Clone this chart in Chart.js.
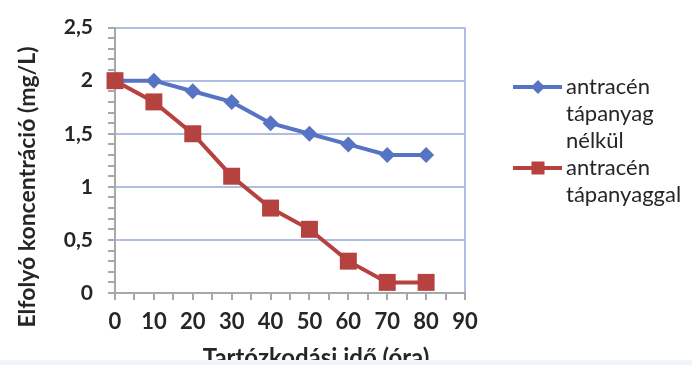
<!DOCTYPE html>
<html>
<head>
<meta charset="utf-8">
<script src="https://cdn.jsdelivr.net/npm/chart.js@4.4.1/dist/chart.umd.min.js"></script>
<style>
  html, body { margin: 0; padding: 0; background: #fff; }
  #wrap { position: relative; width: 692px; height: 365px; overflow: hidden; }
  #strip { position: absolute; left: 0; top: 360px; width: 692px; height: 5px; background: #eef4f9; }
</style>
</head>
<body>
<div id="wrap">
  <canvas id="chart" width="692" height="365"></canvas>
  <div id="strip"></div>
</div>
<script>
  /* ================= DATA ================= */
  const hours = [0, 10, 20, 30, 40, 50, 60, 70, 80];
  const withoutNutrient = [2, 2, 1.9, 1.8, 1.6, 1.5, 1.4, 1.3, 1.3];
  const withNutrient = [2, 1.8, 1.5, 1.1, 0.8, 0.6, 0.3, 0.1, 0.1];
  const seriesNames = [['antracén', 'tápanyag', 'nélkül'], ['antracén', 'tápanyaggal']];
  const yTitle = 'Elfolyó koncentráció (mg/L)';
  const xTitle = 'Tartózkodási idő (óra)';

  const BLUE = '#5774c4';
  const RED = '#b5423f';
  const GRID = '#aebde4';
  const AXIS = '#a8a8a8';
  const TEXT = '#262626';
  const FONT = 'Lato, "DejaVu Sans", sans-serif';

  let isMultiple = (v, step) => Math.abs(v / step - Math.round(v / step)) < 1e-6;

  /* ====== titles + legend drawn by hand (multi-line labels) ====== */
  let extras = {
    id: 'extras',
    afterDraw(chart) {
      let ctx = chart.ctx;
      ctx.save();
      ctx.fillStyle = TEXT;

      // y title
      ctx.font = 'bold 23px ' + FONT;
      ctx.textAlign = 'center';
      ctx.textBaseline = 'middle';
      ctx.save();
      ctx.translate(28, 187);
      ctx.rotate(-Math.PI / 2);
      ctx.fillText(yTitle, 0, 0);
      ctx.restore();

      // x title (cut by the strip below)
      ctx.font = 'bold 24px ' + FONT;
      ctx.textBaseline = 'alphabetic';
      ctx.fillText(xTitle, 316, 366);

      // legend
      ctx.font = '22px ' + FONT;
      ctx.textAlign = 'left';
      ctx.textBaseline = 'middle';
      let y = 87;
      chart.data.datasets.forEach((ds, i) => {
        ctx.strokeStyle = ds.borderColor;
        ctx.lineWidth = 4;
        ctx.beginPath();
        ctx.moveTo(513, y);
        ctx.lineTo(562, y);
        ctx.stroke();
        ctx.fillStyle = ds.borderColor;
        ctx.beginPath();
        if (ds.pointStyle === 'rectRot') {
          ctx.moveTo(538, y - 7); ctx.lineTo(545, y); ctx.lineTo(538, y + 7); ctx.lineTo(531, y);
        } else {
          ctx.rect(531.5, y - 6.5, 13, 13);
        }
        ctx.fill();
        ctx.fillStyle = TEXT;
        seriesNames[i].forEach(line => {
          ctx.fillText(line, 566, y);
          y += 27;
        });
      });
      ctx.restore();
    }
  };

  /* ================= CHART ================= */
  let canvas = document.getElementById('chart').getContext('2d');

  new Chart(canvas, {
    type: 'line',
    data: {
      datasets: [{
        label: seriesNames[0].join(' '),
        data: hours.map((h, i) => ({ x: h, y: withoutNutrient[i] })),
        borderColor: BLUE,
        backgroundColor: BLUE,
        borderWidth: 4,
        pointStyle: 'rectRot',
        pointRadius: 8,
        pointBorderWidth: 0,
        order: 1,
        clip: false
      }, {
        label: seriesNames[1].join(' '),
        data: hours.map((h, i) => ({ x: h, y: withNutrient[i] })),
        borderColor: RED,
        backgroundColor: RED,
        borderWidth: 4,
        pointStyle: 'rect',
        pointRadius: 12,
        pointBorderWidth: 0,
        order: 0,
        clip: false
      }]
    },
    options: {
      responsive: false,
      animation: false,
      events: [],
      layout: { padding: { top: 24, right: 227, left: 0, bottom: 0 } },
      plugins: { legend: { display: false }, tooltip: { enabled: false } },
      scales: {
        x: {
          type: 'linear',
          min: 0, max: 90,
          afterFit: s => { s.height = 72; },
          border: { color: AXIS, width: 2 },
          grid: {
            color: c => c.tick && c.tick.value === 90 ? GRID : 'transparent',
            tickColor: AXIS,
            tickLength: 7,
            lineWidth: 2
          },
          ticks: {
            stepSize: 5,
            autoSkip: false,
            maxRotation: 0,
            padding: 9,
            color: TEXT,
            font: { family: FONT, size: 22, weight: 'bold' },
            callback: v => isMultiple(v, 10) ? String(v) : ''
          }
        },
        y: {
          min: 0, max: 2.5,
          afterFit: s => { s.width = 115; },
          border: { color: AXIS, width: 2 },
          grid: {
            color: c => c.tick && c.tick.value > 0 && isMultiple(c.tick.value, 0.5) ? GRID : 'transparent',
            tickColor: AXIS,
            tickLength: 7,
            lineWidth: 2
          },
          ticks: {
            stepSize: 0.1,
            autoSkip: false,
            padding: 15,
            color: TEXT,
            font: { family: FONT, size: 21, weight: 'bold' },
            callback: v => isMultiple(v, 0.5) ? String(Math.round(v * 10) / 10).replace('.', ',') : ''
          }
        }
      }
    },
    plugins: [extras]
  });
</script>
</body>
</html>
